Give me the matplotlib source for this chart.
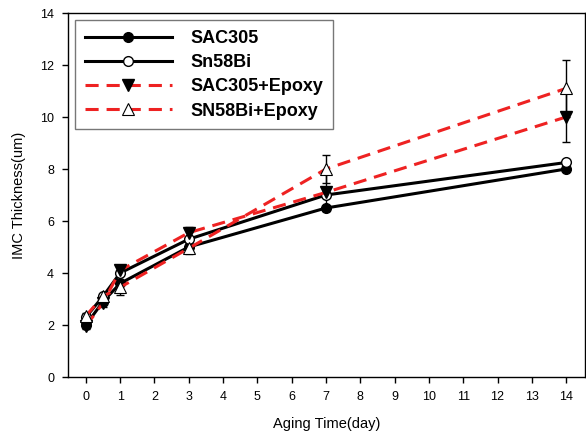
import matplotlib
matplotlib.use('Agg')
import matplotlib.pyplot as plt
import numpy as np

# aging time (day)
days = [0, 0.5, 1, 3, 7, 14]

sac305 = [2.0, 2.9, 3.6, 5.0, 6.5, 8.0]
sn58bi = [2.3, 3.1, 4.0, 5.3, 7.0, 8.25]
sac305_epoxy = [1.95, 2.85, 4.1, 5.55, 7.1, 10.0]
sac305_epoxy_err = [0.1, 0.15, 0.15, 0.22, 0.7, 0.95]
sn58bi_epoxy = [2.35, 3.1, 3.45, 4.95, 8.0, 11.1]
sn58bi_epoxy_err = [0.1, 0.1, 0.3, 0.2, 0.55, 1.1]

x_ticks = list(range(0, 15))
y_ticks = list(range(0, 15, 2))

plt.rcParams['font.family'] = ['Liberation Sans', 'DejaVu Sans']

fig = plt.figure(figsize=(5.86, 4.4), dpi=100)
ax = fig.add_axes([68 / 586, 63 / 440, 517 / 586, 364 / 440])

RED = '#ee2222'
dash = (4.3, 2.6)

ax.errorbar(days, sn58bi_epoxy, yerr=sn58bi_epoxy_err, fmt='none', ecolor='black',
            elinewidth=1, capsize=3, capthick=1, zorder=2)
ax.errorbar(days, sac305_epoxy, yerr=sac305_epoxy_err, fmt='none', ecolor='black',
            elinewidth=1, capsize=3, capthick=1, zorder=2)

ax.plot(days, sac305, color='black', lw=2.2, marker='o', ms=7, mfc='black', mec='black',
        label='SAC305', zorder=3)
ax.plot(days, sn58bi, color='black', lw=2.2, marker='o', ms=7, mfc='white', mec='black',
        label='Sn58Bi', zorder=3)
ax.plot(days, sac305_epoxy, color=RED, lw=2.2, dashes=dash, marker='v', ms=8,
        mfc='black', mec='black', label='SAC305+Epoxy', zorder=4)
ax.plot(days, sn58bi_epoxy, color=RED, lw=2.2, dashes=dash, marker='^', ms=8,
        mfc='white', mec='black', mew=0.8, label='SN58Bi+Epoxy', zorder=4)

ax.set_xlim(-0.52, 14.55)
ax.set_ylim(0, 14)
ax.set_xticks(x_ticks)
ax.set_yticks(y_ticks)
ax.tick_params(direction='out', length=4, width=1, labelsize=9, colors='black', pad=6)
for s in ax.spines.values():
    s.set_linewidth(1)

ax.set_xlabel('Aging Time(day)', fontsize=10.5, labelpad=10)
ax.set_ylabel('IMC Thickness(um)', fontsize=10.5, labelpad=10)

leg = ax.legend(loc='upper left', bbox_to_anchor=(0.0135, 0.981), borderaxespad=0,
                handlelength=4.8, handletextpad=1.05, labelspacing=0.4, borderpad=0.55,
                fancybox=False, frameon=True, prop={'weight': 'bold', 'size': 13})
leg.get_frame().set_edgecolor('#555555')
leg.get_frame().set_linewidth(1)

fig.savefig('out.png', dpi=100)
